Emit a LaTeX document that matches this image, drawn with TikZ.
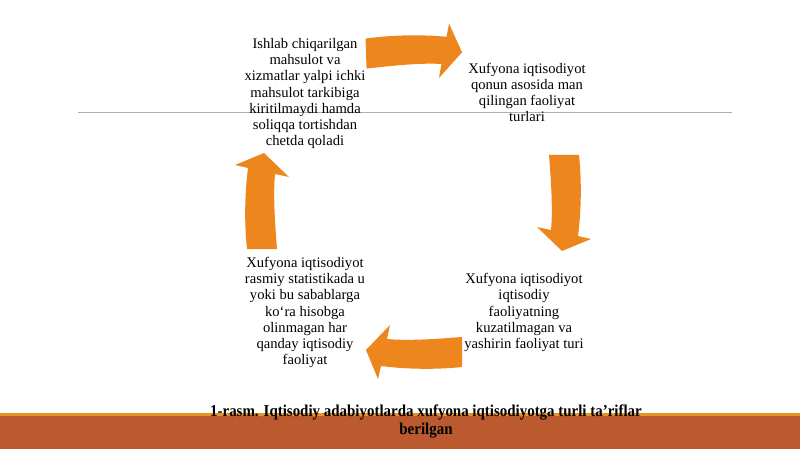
\documentclass[tikz,border=0pt]{standalone}
\usepackage{fontspec}
\setmainfont{Liberation Serif}
\newfontfamily\capfont[FakeStretch=0.9]{Liberation Serif}
\usepackage{tikz}
\usetikzlibrary{positioning}
\definecolor{colorArrow}{RGB}{238,134,30}
\definecolor{colorBand}{RGB}{186,90,46}
\definecolor{colorBandTop}{RGB}{232,146,36}
\definecolor{colorRule}{RGB}{175,175,175}
\tikzset{stagetext/.style={align=center, inner sep=0pt, font=\fontsize{14.6}{16.2}\selectfont}}
% curved block arrow of the cycle: #1 centre, #2 direction
\newcommand{\cycarrow}[2]{%
\fill[colorArrow, shift={(#1)}, rotate=#2] (-46,-15) .. controls (-18,-18) and (12,-17) .. (35,-14) -- (38,-27) -- (50,2) -- (26,27) -- (29,13) .. controls (8,11) and (-20,13) .. (-46,15) -- cycle;}

\begin{document}
\begin{tikzpicture}[x=1pt, y=-1pt]
\useasboundingbox (0,0) rectangle (800,449);
\fill[colorBand] (0,416) rectangle (800,449);
\fill[colorBandTop] (0,413) rectangle (800,416);
\draw[colorRule, line width=1pt] (78,113) -- (732,113);
\node[stagetext] (tl) at (305,93.5) {Ishlab chiqarilgan\\mahsulot va\\xizmatlar yalpi ichki\\mahsulot tarkibiga\\kiritilmaydi hamda\\soliqqa tortishdan\\chetda qoladi};
\node[stagetext] (tr) at (527,92.5) {Xufyona iqtisodiyot\\qonun asosida man\\qilingan faoliyat\\turlari};
\node[stagetext] (br) at (524,312.5) {Xufyona iqtisodiyot\\iqtisodiy\\faoliyatning\\kuzatilmagan va\\yashirin faoliyat turi};
\node[stagetext] (bl) at (305,312.5) {Xufyona iqtisodiyot\\rasmiy statistikada u\\yoki bu sabablarga\\ko‘ra hisobga\\olinmagan har\\qanday iqtisodiy\\faoliyat};
\coordinate (a1) at (412,52);
\coordinate (a2) at (564,201);
\coordinate (a3) at (416,352);
\coordinate (a4) at (262,203);
\cycarrow{a1}{2}
\cycarrow{a2}{-90}
\cycarrow{a3}{180}
\cycarrow{a4}{90}
\node[align=center, inner sep=0pt, font=\capfont\bfseries\fontsize{16.6}{18}\selectfont] (cap) at (426,421) {1-rasm. Iqtisodiy adabiyotlarda xufyona iqtisodiyotga turli ta’riflar\\berilgan};
\end{tikzpicture}
\end{document}
